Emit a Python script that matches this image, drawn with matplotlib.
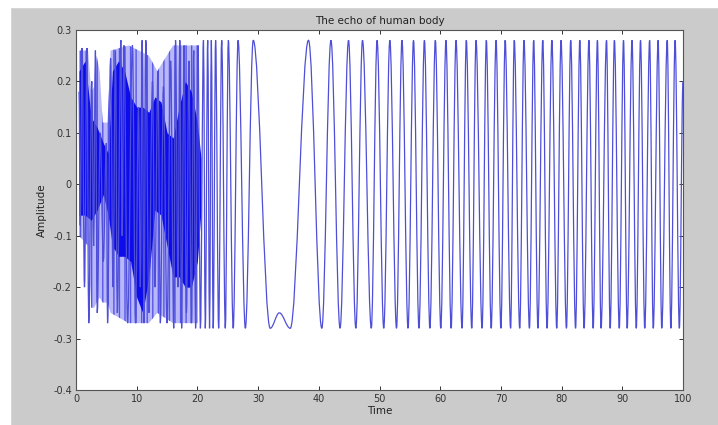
import matplotlib
matplotlib.use("Agg")
import matplotlib.pyplot as plt
from matplotlib.patches import Rectangle, PathPatch
from matplotlib.path import Path

# extrema of the echo signal (time, amplitude)
echo_t = [0.5, 0.7, 1.0, 1.4, 1.8, 2.1, 2.6, 2.9, 3.2, 3.5,
          4.0, 4.5, 5.0, 5.2, 5.7, 6.1, 6.5, 6.8, 7.4, 7.6,
          7.9, 8.5, 9.3, 9.8, 10.3, 10.6, 10.9, 11.2, 11.5, 12.0,
          12.6, 13.0, 13.5, 13.9, 14.4, 15.0, 15.6, 16.1, 16.4, 16.8,
          17.1, 17.4, 17.8, 18.2, 18.6, 19.0, 19.4, 19.7,
          20.1, 20.5, 21.0, 21.3, 21.7, 22.0, 22.3, 22.6, 23.0, 23.5,
          24.0, 24.6, 25.1, 25.9, 26.7, 27.9, 29.2, 32.0, 33.5, 35.3,
          38.3, 40.5, 42.0, 43.5, 44.9, 46.1, 47.2, 48.65, 49.6, 50.7,
          51.7, 52.8, 53.7, 54.7, 55.6, 56.5, 57.4, 58.3, 59.2, 60.1,
          60.95, 61.8, 62.6, 63.6, 64.3, 65.2, 65.9, 66.9, 67.6, 68.4,
          69.2, 70.0, 70.7, 71.6, 72.2, 73.1, 73.8, 74.7, 75.4, 76.1,
          76.9, 77.6, 78.4, 79.2, 79.9, 80.8, 81.5, 82.3, 83.0, 83.7,
          84.5, 85.2, 85.9, 86.5, 87.4, 88.0, 88.7, 89.5, 90.2, 90.8,
          91.6, 92.3, 93.0, 93.7, 94.5, 95.1, 95.9, 96.5, 97.4, 98.0,
          98.7, 99.4, 100.0]
echo_v = [0.18, -0.08, 0.265, -0.20, 0.265, -0.27, 0.20, -0.12, 0.26, -0.25,
          0.10, -0.15, 0.08, -0.27, 0.245, -0.20, 0.26, -0.25, 0.28, -0.10,
          0.27, -0.27, 0.27, -0.27, 0.15, -0.20, 0.28, -0.27, 0.28, -0.25,
          0.20, -0.20, 0.22, -0.27, 0.19, -0.27, 0.24, -0.28, 0.28, -0.20,
          0.28, -0.28, 0.27, -0.25, 0.24, -0.27, 0.26, -0.28,
          0.27, -0.28, 0.28, -0.28, 0.28, -0.28, 0.28, -0.28, 0.28, -0.28,
          0.28, -0.28, 0.28, -0.28, 0.28, -0.28, 0.28, -0.28, -0.25, -0.28,
          0.28, -0.28, 0.28, -0.28, 0.28, -0.28, 0.28, -0.28, 0.28, -0.28,
          0.28, -0.28, 0.28, -0.28, 0.28, -0.28, 0.28, -0.28, 0.28, -0.28,
          0.28, -0.28, 0.28, -0.28, 0.28, -0.28, 0.28, -0.28, 0.28, -0.28,
          0.28, -0.28, 0.28, -0.28, 0.28, -0.28, 0.28, -0.28, 0.28, -0.28,
          0.28, -0.28, 0.28, -0.28, 0.28, -0.28, 0.28, -0.28, 0.28, -0.28,
          0.28, -0.28, 0.28, -0.28, 0.28, -0.28, 0.28, -0.28, 0.28, -0.28,
          0.28, -0.28, 0.28, -0.28, 0.28, -0.28, 0.28, -0.28, 0.28, -0.28,
          0.28, -0.28, 0.20]

# area covered by the thin aliased strokes at the start
light_t = [0.5, 2.0, 2.5, 3.0, 3.4, 3.9, 4.4, 5.2, 5.7, 8.7, 12.0, 13.4, 16.0, 19.0, 20.0]
light_hi = [0.26, 0.26, 0.18, 0.19, 0.25, 0.22, 0.12, 0.12, 0.26, 0.27, 0.25, 0.22, 0.27, 0.27, 0.27]
light_lo = [-0.10, -0.12, -0.24, -0.24, -0.23, -0.22, -0.23, -0.23, -0.25, -0.27, -0.27, -0.25,
            -0.27, -0.27, -0.27]

# dark band of the aliased part (upper and lower edge)
band_t = [0.5, 1.5, 2.5, 3.5, 4.5, 5.3, 6.0, 7.0, 8.0, 9.0, 10.0,
          11.0, 12.0, 13.0, 14.0, 15.0, 16.0, 17.0, 18.0, 19.0, 20.0, 20.6]
band_hi = [0.22, 0.24, 0.13, 0.11, 0.08, 0.06, 0.22, 0.24, 0.22, 0.17, 0.15,
           0.15, 0.14, 0.17, 0.16, 0.10, 0.09, 0.15, 0.20, 0.18, 0.12, 0.05]
band_lo = [-0.06, -0.06, -0.07, -0.05, -0.02, -0.06, -0.12, -0.14, -0.14, -0.15, -0.22,
           -0.25, -0.18, -0.05, -0.06, -0.12, -0.18, -0.18, -0.20, -0.20, -0.15, -0.05]

x_ticks = [0, 10, 20, 30, 40, 50, 60, 70, 80, 90, 100]
y_ticks = [0.3, 0.2, 0.1, 0, -0.1, -0.2, -0.3, -0.4]
y_labels = ['0.3', '0.2', '0.1', '0', '-0.1', '-0.2', '-0.3', '-0.4']

plt.rcParams['hatch.linewidth'] = 1.0

W, H = 718, 425
fig = plt.figure(figsize=(W / 100, H / 100), dpi=100, facecolor='#cbcbcb')
# white strip of the screenshot on top and left
fig.patches.append(Rectangle((0, 1 - 7 / H), 1, 7 / H, transform=fig.transFigure,
                             color='white', zorder=0))
fig.patches.append(Rectangle((0, 0), 10 / W, 1, transform=fig.transFigure,
                             color='white', zorder=0))

ax = fig.add_axes([76 / W, 35 / H, (683 - 76) / W, (390 - 30) / H])
ax.set_facecolor('white')

ax.fill_between(light_t, light_lo, light_hi, facecolor='#b8b8f8', edgecolor='#5656ea',
                hatch='|||', lw=0, zorder=1)
ax.fill_between(band_t, band_lo, band_hi, color='#0c0cec', lw=0, zorder=2)

# smooth wave through the extrema (flat tangent at each peak / trough)
k = 0.363
verts = [(echo_t[0], echo_v[0])]
codes = [Path.MOVETO]
for i in range(1, len(echo_t)):
    t0, v0 = echo_t[i - 1], echo_v[i - 1]
    t1, v1 = echo_t[i], echo_v[i]
    dt = t1 - t0
    verts += [(t0 + k * dt, v0), (t1 - k * dt, v1), (t1, v1)]
    codes += [Path.CURVE4] * 3
ax.add_patch(PathPatch(Path(verts, codes), fill=False, edgecolor='#4e4ed8',
                       lw=0.9, zorder=3))

ax.set_xlim(0, 100)
ax.set_ylim(-0.4, 0.3)
ax.set_xticks(x_ticks)
ax.set_yticks(y_ticks)
ax.set_yticklabels(y_labels)
ax.tick_params(direction='in', length=3, width=0.7, labelsize=7, colors='#333333',
               top=True, right=True, pad=3)
for s in ax.spines.values():
    s.set_color('#555555')
    s.set_linewidth(0.8)

ax.set_title('The echo of human body', fontsize=7.5, color='#222222', pad=4)
ax.set_xlabel('Time', fontsize=7.5, color='#222222', labelpad=1)
ax.set_ylabel('Amplitude', fontsize=7.5, color='#222222', labelpad=4)

fig.savefig('out.png', dpi=100, facecolor=fig.get_facecolor())
